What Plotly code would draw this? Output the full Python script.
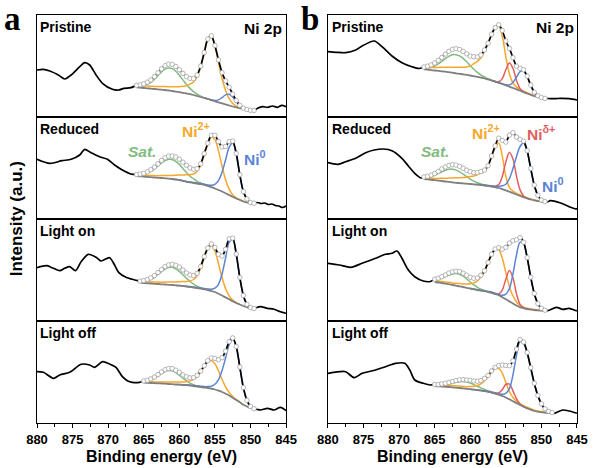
import plotly.graph_objects as go

N = None

# Binding-energy grid of the fitted region (eV)
GRID_E = [866.5, 866.0, 865.5, 865.0, 864.5, 864.0, 863.5, 863.0, 862.5, 862.0,
          861.5, 861.0, 860.5, 860.0, 859.5, 859.0, 858.5, 858.0, 857.5, 857.0,
          856.5, 856.0, 855.5, 855.0, 854.5, 854.0, 853.5, 853.0, 852.5, 852.0,
          851.5, 851.0, 850.5, 850.0, 849.5, 849.0, 848.5]

# ---------------- (a) Pristine ----------------
a1_hi_E = [880, 879.1, 878.2, 877, 876.1, 875.2, 874, 873.3, 872.6, 871.7, 870.8, 869.4, 868.5, 867.8, 866.8]
a1_hi_I = [47, 47.7, 46, 42, 38, 42, 50.3, 54.3, 52, 42, 33.7, 27.7, 27, 28.7, 29.3]
a1_lo_E = [849, 848.3, 847.6, 846.9, 846.2, 845.6, 845]
a1_lo_I = [8.7, 10.3, 9.7, 11, 9.7, 11.7, 10.3]
a1_fit = [N] + [31.7, 32.2, 33.1, 34.8, 37.1, 40.4, 44.2, 48.1, 51.3, 52.9, 52.6, 50.5, 47.2, 43.6, 40.4, 38.6, 38.4,
                41.9, 50.9, 64.4, 78.0, 81.1, 71.5, 57.1, 44.4, 36.1, 29.8, 23.0, 16.5, 11.7, 8.9, 7.5, 6.7, 6.5] + [N] * 2
a1_bg = [N] + [29.7, 29.4, 29.0, 28.7, 28.3, 28.0, 27.6, 27.3, 27.0, 26.5, 26.0, 25.4, 24.8, 24.2, 23.5, 22.8, 22.0,
               21.0, 20.0, 19.0, 18.0, 16.9, 15.8, 14.7, 13.7, 12.6, 11.5, 10.5, 9.6, 8.8, 8.0, 7.3, 6.7, 6.5] + [N] * 2
a1_sat = [N] + [0.5, 1.1, 2.1, 3.9, 6.4, 9.8, 13.8, 17.7, 20.9, 22.6, 22.4, 20.3, 16.9, 12.9, 9.1, 5.8, 3.4, 1.9, 0.9,
                0.4, 0.0] + [N] * 15
a1_ni2 = [N] + [1.5, 1.7, 2.0, 2.2, 2.4, 2.6, 2.8, 3.1, 3.4, 3.8, 4.2, 4.8, 5.5, 6.5, 7.8, 10.0, 13.0, 19.0, 30.0, 45.0,
                60.0, 64.0, 55.0, 40.0, 25.0, 14.0, 7.0, 3.0, 1.2, 0.5, 0.2, 0.0] + [N] * 4
a1_ni0 = [N] * 20 + [0.0, 0.1, 0.2, 0.7, 2.4, 5.7, 9.5, 11.3, 9.5, 5.7, 2.4, 0.7, 0.2, 0.0] + [N] * 3

# ---------------- (a) Reduced ----------------
a2_hi_E = [880, 878.2, 876.5, 875.2, 874.0, 873.3, 872.4, 871.2, 870.1, 869.1, 868.0, 866.8]
a2_hi_I = [59.7, 55.7, 58.3, 59.7, 64, 69.7, 66.3, 62.3, 59.7, 54, 49, 45]
a2_lo_E = [849, 848.5, 848, 847.5, 847, 846.5, 846, 845.5, 845]
a2_lo_I = [16.5, 15.5, 16, 14.5, 15, 13.5, 13, 11.5, 13]
a2_fit = [N] + [44.5, 44.9, 45.7, 47.1, 49.3, 52.0, 55.1, 58.6, 61.2, 62.8, 63.0, 62.0, 59.8, 56.8, 53.7, 51.1, 49.7,
                50.3, 55.2, 65.4, 75.8, 83.7, 83.7, 77.4, 72.1, 72.5, 77.4, 77.9, 65.5, 44.2, 27.4, 20.0, 16.5, 15.8] + [N] * 2
a2_bg = [N] + [43.0, 42.7, 42.4, 42.1, 41.8, 41.5, 41.2, 41.0, 40.7, 40.4, 40.0, 39.5, 39.0, 38.1, 37.2, 36.6, 36.0,
               35.4, 34.8, 34.0, 33.0, 31.8, 30.5, 29.0, 27.5, 25.8, 24.0, 22.2, 20.5, 19.0, 17.5, 16.5, 15.7, 15.5] + [N] * 2
a2_sat = [N] + [0.5, 1.1, 2.0, 3.5, 5.8, 8.6, 11.8, 15.2, 17.8, 19.4, 19.5, 18.2, 15.6, 12.5, 9.2, 6.3, 4.2, 2.3, 1.2,
                0.6, 0.2, 0.0] + [N] * 14
a2_ni2 = [N] + [1.0, 1.1, 1.3, 1.5, 1.7, 1.9, 2.1, 2.4, 2.7, 3.0, 3.5, 4.3, 5.0, 6.0, 7.0, 7.8, 9.0, 12.0, 18.5, 30.0,
                41.6, 50.0, 49.0, 39.1, 25.4, 13.5, 5.8, 2.0, 0.7, 0.3, 0.1, 0.0] + [N] * 4
a2_ni0 = [N] * 11 + [0.0, 0.1, 0.2, 0.2, 0.3, 0.4, 0.5, 0.6, 0.7, 0.8, 1.0, 1.9, 4.2, 9.3, 19.2, 33.2, 47.6, 53.7, 44.3,
                     24.9, 9.8, 3.5, 0.8, 0.3] + [N] * 2

# ---------------- (a) Light on ----------------
a3_hi_E = [880, 878.6, 877.7, 876.8, 876.1, 875.4, 874.6, 873.8, 872.8, 871.7, 871.0, 869.8, 869.1, 868.5, 867.5, 866.6]
a3_hi_I = [53.3, 55.3, 52.7, 50.3, 52.7, 54.3, 50.3, 59.3, 66.7, 63.7, 60, 63.3, 56, 48.3, 43.7, 41.7]
a3_lo_E = [849, 848.6, 847.6, 846.7, 845.8, 845]
a3_lo_I = [13.8, 14.3, 12.7, 11.7, 9.3, 7.7]
a3_fit = [N] * 2 + [39.9, 40.4, 41.4, 43.1, 45.4, 48.4, 51.4, 54.3, 56.1, 56.7, 55.7, 53.9, 51.0, 48.1, 46.0, 45.4, 47.7,
                    54.5, 64.4, 73.0, 77.0, 73.6, 66.7, 64.9, 71.7, 82.2, 82.9, 67.0, 43.5, 25.6, 16.7, 13.3, 12.5] + [N] * 2
a3_bg = [N] * 2 + [38.3, 38.0, 37.7, 37.5, 37.2, 37.0, 36.7, 36.5, 36.2, 36.0, 35.6, 35.3, 34.9, 34.5, 34.0, 33.5, 32.9,
                   32.3, 31.7, 31.0, 30.0, 29.0, 27.3, 25.5, 23.6, 21.7, 19.8, 18.0, 16.5, 15.0, 13.8, 12.7, 12.3] + [N] * 2
a3_sat = [N] * 2 + [0.6, 1.3, 2.4, 4.1, 6.5, 9.5, 12.6, 15.4, 17.2, 17.7, 16.6, 14.4, 11.4, 8.3, 5.5, 3.4, 1.9, 1.0, 0.4,
                    0.2, 0.0] + [N] * 14
a3_ni2 = [N] * 2 + [1.0, 1.1, 1.3, 1.5, 1.7, 1.9, 2.1, 2.4, 2.7, 3.0, 3.5, 4.0, 4.5, 5.0, 6.1, 8.0, 12.3, 20.5, 31.5,
                    40.8, 45.2, 40.8, 30.0, 18.0, 8.8, 3.5, 1.1, 0.3, 0.0] + [N] * 6
a3_ni0 = [N] * 12 + [0.0, 0.2, 0.2, 0.3, 0.4, 0.5, 0.6, 0.7, 0.8, 1.0, 1.8, 3.8, 9.4, 21.4, 39.3, 57.0, 62.0, 48.7, 27.0,
                     10.6, 2.9, 0.6, 0.2] + [N] * 2

# ---------------- (a) Light off ----------------
a4_hi_E = [880, 879.1, 877.7, 876.8, 875.4, 873.8, 872.6, 871.9, 870.8, 869.8, 868.9, 868.0, 867.3, 866.6, 865.6]
a4_hi_I = [51.3, 50.7, 44.7, 48, 50.7, 58.7, 58, 55.7, 61.3, 59, 55.7, 46.3, 42.3, 40.7, 40.7]
a4_lo_E = [849, 848.6, 847.6, 846.7, 845.8, 845]
a4_lo_I = [13.5, 13, 14.7, 13, 15.7, 12.3]
a4_fit = [N] * 3 + [42.0, 42.7, 44.1, 45.9, 48.4, 51.1, 53.3, 54.5, 54.4, 52.8, 50.7, 48.1, 46.3, 45.1, 45.5, 47.7, 51.9,
                    57.3, 62.3, 65.0, 64.6, 63.3, 65.3, 71.9, 81.3, 85.1, 76.5, 56.0, 35.4, 22.7, 16.6, 14.3] + [N] * 2
a4_bg = [N] * 3 + [40.3, 40.1, 40.0, 39.8, 39.7, 39.5, 39.3, 39.0, 38.8, 38.5, 38.3, 38.0, 37.8, 37.4, 37.0, 36.5, 36.0,
                   35.5, 35.0, 34.3, 33.5, 32.3, 31.0, 29.3, 27.5, 25.3, 23.0, 20.7, 18.3, 16.6, 15.0, 14.0] + [N] * 2
a4_sat = [N] * 3 + [0.7, 1.5, 2.9, 4.8, 7.3, 10.0, 12.2, 13.5, 13.4, 11.9, 9.5, 6.8, 4.4, 2.5, 1.3, 0.6, 0.3,
                    0.0] + [N] * 16
a4_ni2 = [N] * 3 + [1.0, 1.1, 1.2, 1.3, 1.4, 1.6, 1.8, 2.0, 2.2, 2.4, 2.7, 3.0, 3.7, 4.7, 6.6, 9.9, 14.8, 20.9, 25.9,
                    28.3, 25.9, 19.9, 12.8, 6.9, 3.1, 1.2, 0.4, 0.1, 0.0] + [N] * 5
a4_ni0 = [N] * 12 + [0.0, 0.2, 0.3, 0.4, 0.5, 0.6, 0.7, 0.8, 0.9, 1.4, 2.4, 5.2, 11.1, 21.5, 35.7, 50.7, 58.6, 53.1, 35.2,
                     17.1, 6.1, 1.6, 0.3] + [N] * 2

# ---------------- (b) Pristine ----------------
b1_hi_E = [880, 878.85, 877.5, 876.1, 875.2, 873.5, 872.4, 871.0, 869.6, 868.2, 867.2]
b1_hi_I = [65.3, 64.7, 64.3, 67, 71, 76, 70.3, 61, 54.3, 50.3, 48.5]
b1_lo_E = [849, 848, 847.4, 846.1, 845]
b1_lo_I = [18.5, 18.3, 18.7, 18.3, 17]
b1_fit = [50.0, 50.8, 52.1, 54.0, 56.6, 59.6, 62.9, 65.7, 67.7, 68.3, 67.6, 65.6, 63.2, 60.9, 60.3, 60.1, 62.0, 67.0,
          73.8, 82.7, 89.4, 92.2, 86.5, 76.0, 68.6, 59.3, 50.8, 48.6, 47.2, 40.8, 31.9, 24.8, 21.2, 19.4, 18.6] + [N] * 2
b1_bg = [47.7, 47.3, 46.9, 46.5, 46.1, 45.7, 45.3, 44.8, 44.3, 43.7, 43.2, 42.7, 42.1, 41.5, 40.8, 40.1, 39.3, 38.5,
         37.5, 36.5, 35.4, 34.2, 33.0, 31.8, 30.4, 29.0, 27.7, 26.3, 24.9, 23.5, 22.1, 20.8, 19.9, 19.0, 18.5] + [N] * 2
b1_sat = [0.8, 1.5, 2.7, 4.5, 7.0, 9.9, 13.1, 15.9, 17.9, 18.6, 17.9, 15.9, 13.1, 9.9, 7.0, 4.5, 2.7, 1.5, 0.8, 0.4,
          0.0] + [N] * 16
b1_ni2 = [1.5, 2.0, 2.5, 3.0, 3.5, 4.0, 4.5, 5.0, 5.5, 6.0, 6.5, 7.0, 8.0, 9.5, 12.5, 15.5, 20.0, 27.0, 35.5, 45.8,
          53.8, 56.8, 47.8, 28.4, 12.9, 5.1, 2.2, 1.2, 1.0, 0.8, 0.6, 0.4, 0.3, 0.2, 0.1] + [N] * 2
b1_nid = [N] * 19 + [0.0, 0.1, 1.0, 5.4, 15.4, 23.6, 19.7, 8.8, 2.1, 0.3, 0.0] + [N] * 7
b1_ni0 = [N] * 19 + [0.0, 0.1, 0.2, 0.3, 0.4, 1.7, 5.5, 12.1, 19.0, 21.0, 16.5, 9.2, 3.6, 1.0, 0.2, 0.0] + [N] * 2

# ---------------- (b) Reduced ----------------
b2_hi_E = [880, 878.6, 877.5, 876.1, 874.7, 873.5, 872.2, 871.0, 869.6, 868.7, 867.8, 866.9]
b2_hi_I = [56.3, 54.7, 57.3, 60.7, 66.3, 69, 70, 68.3, 60.7, 53, 45.7, 41]
b2_lo_E = [849, 848.8, 847.4, 846.1, 845.1, 845]
b2_lo_I = [17.5, 18.3, 16.3, 12.3, 10, 11]
b2_fit = [42.1, 42.7, 43.9, 45.5, 47.6, 50.0, 52.0, 53.6, 54.3, 53.9, 52.6, 50.7, 48.8, 47.4, 46.3, 46.5, 47.4, 49.0,
          53.3, 63.0, 73.1, 80.8, 78.6, 76.9, 83.9, 86.3, 82.0, 79.6, 77.9, 68.3, 50.5, 33.9, 23.7, 19.0, 17.4] + [N] * 2
b2_bg = [40.0, 39.6, 39.2, 38.8, 38.4, 38.0, 37.5, 37.1, 36.6, 36.2, 35.9, 35.6, 35.3, 35.0, 34.6, 34.3, 33.9, 33.5,
         33.0, 32.5, 31.8, 31.0, 29.9, 28.7, 27.3, 26.0, 24.5, 23.0, 21.8, 20.5, 19.5, 18.6, 17.9, 17.3, 17.0] + [N] * 2
b2_sat = [1.1, 1.9, 3.2, 4.9, 7.0, 9.3, 11.3, 12.7, 13.2, 12.7, 11.3, 9.3, 7.0, 4.9, 3.2, 1.9, 1.1, 0.5, 0.2,
          0.0] + [N] * 17
b2_ni2 = [1.0, 1.2, 1.5, 1.8, 2.2, 2.7, 3.2, 3.8, 4.5, 5.0, 5.4, 5.8, 6.5, 7.5, 8.5, 10.0, 12.0, 14.5, 19.5, 29.6,
          39.6, 44.7, 32.9, 14.0, 4.3, 1.8, 1.2, 1.0, 0.8, 0.6, 0.5, 0.4, 0.3, 0.2, 0.1] + [N] * 2
b2_nid = [N] * 18 + [0.0, 0.2, 0.9, 3.4, 12.5, 28.2, 39.2, 34.1, 18.3, 6.1, 1.2, 0.3, 0.0] + [N] * 6
b2_ni0 = [N] * 14 + [0.0, 0.3, 0.4, 0.5, 0.6, 0.7, 0.8, 1.7, 3.3, 6.0, 13.1, 24.4, 38.0, 49.5, 54.1, 46.9, 30.5, 14.9,
                     5.5, 1.5, 0.3] + [N] * 2

# ---------------- (b) Light on ----------------
b3_hi_E = [880, 878.4, 876.8, 875.2, 873.3, 871.9, 871.0, 870.3, 869.6, 868.7, 867.8, 866.6, 865.6]
b3_hi_I = [57.7, 56, 53.7, 57.7, 62.7, 66.7, 67.7, 70, 62.7, 51, 44.3, 40, 39.5]
b3_lo_E = [849, 847.9, 847.0, 846.1, 845.1, 845]
b3_lo_I = [10.5, 13.7, 11.7, 12.7, 10.3, 10.5]
b3_fit = [N] * 3 + [41.8, 42.8, 44.3, 46.1, 47.9, 49.2, 49.8, 49.4, 47.8, 45.8, 43.7, 42.7, 43.1, 45.8, 50.3, 58.6, 66.7,
                    72.0, 73.4, 71.8, 73.7, 77.9, 80.2, 81.3, 83.4, 78.7, 63.4, 43.8, 27.5, 17.4, 12.7, 10.8] + [N] * 2
b3_bg = [N] * 3 + [39.0, 38.5, 38.0, 37.4, 36.8, 36.0, 35.3, 34.7, 34.0, 33.2, 32.5, 31.7, 31.0, 30.4, 29.8, 29.0, 28.2,
                   27.1, 25.8, 23.8, 21.7, 19.6, 17.5, 15.5, 13.7, 12.8, 12.0, 11.5, 11.0, 10.6, 10.3, 10.0] + [N] * 2
b3_sat = [N] * 3 + [1.7, 3.0, 4.8, 7.0, 9.2, 11.1, 12.1, 12.0, 10.8, 8.8, 6.5, 4.4, 2.7, 1.5, 0.8, 0.4, 0.2,
                    0.0] + [N] * 16
b3_ni2 = [N] * 3 + [1.1, 1.3, 1.5, 1.7, 1.9, 2.1, 2.4, 2.7, 3.0, 3.8, 4.7, 6.4, 9.1, 13.5, 19.2, 28.6, 37.6, 44.0, 45.4,
                    38.9, 26.7, 14.7, 7.5, 3.5, 1.9, 1.0, 0.8, 0.6, 0.5, 0.4, 0.3, 0.2] + [N] * 2
b3_nid = [N] * 19 + [0.0, 0.1, 1.3, 7.1, 20.1, 30.8, 25.8, 11.6, 2.8, 0.3, 0.0] + [N] * 7
b3_ni0 = [N] * 13 + [0.0, 0.2, 0.3, 0.4, 0.5, 0.6, 0.7, 0.8, 0.9, 2.0, 5.2, 12.8, 29.4, 50.7, 65.0, 64.6, 50.6, 31.7,
                     16.0, 6.4, 2.1, 0.6] + [N] * 2

# ---------------- (b) Light off ----------------
b4_hi_E = [880, 878.4, 877.5, 876.3, 875.2, 873.3, 871.9, 870.5, 869.2, 868.5, 867.8, 866.6, 865.6]
b4_hi_I = [49.7, 51.3, 51.3, 45.3, 49.7, 53, 56.3, 59.7, 59.7, 53, 43, 39.7, 38]
b4_lo_E = [848.2, 847.0, 846.1, 845]
b4_lo_I = [9.7, 13, 12, 9.7]
b4_fit = [N] * 3 + [38.5, 38.6, 39.1, 39.7, 40.6, 41.5, 42.5, 43.2, 43.4, 43.0, 42.7, 42.0, 41.7, 42.4, 44.6, 47.6, 52.1,
                    55.6, 57.5, 58.0, 57.5, 57.3, 62.2, 73.8, 83.6, 80.9, 70.4, 55.3, 39.8, 27.6, 19.2, 14.2, 11.7, 10.5]
b4_bg = [N] * 3 + [37.0, 36.7, 36.5, 36.2, 36.0, 35.6, 35.3, 35.0, 34.6, 34.2, 33.8, 33.3, 32.8, 32.3, 31.8, 31.1, 30.3,
                   29.4, 28.3, 27.0, 25.5, 23.7, 21.8, 19.9, 18.0, 16.3, 14.7, 13.3, 12.0, 11.3, 10.8, 10.3, 10.0, 9.8]
b4_sat = [N] * 3 + [0.3, 0.6, 1.2, 2.0, 3.0, 4.2, 5.4, 6.3, 6.8, 6.7, 6.2, 5.1, 3.9, 2.8, 1.8, 1.0, 0.6, 0.3, 0.1,
                    0.0] + [N] * 14
b4_ni2 = [N] * 3 + [1.2, 1.3, 1.4, 1.5, 1.6, 1.7, 1.8, 1.9, 2.0, 2.1, 2.7, 3.4, 4.7, 6.9, 10.5, 14.9, 20.5, 24.8, 26.4,
                    22.9, 14.9, 7.8, 3.7, 1.9, 1.2, 1.1, 1.0, 0.9, 0.8, 0.7, 0.6, 0.5, 0.4, 0.3]
b4_nid = [N] * 19 + [0.0, 0.3, 1.8, 6.4, 13.0, 15.2, 10.4, 4.2, 1.0, 0.1, 0.0] + [N] * 7
b4_ni0 = [N] * 13 + [0.0, 0.2, 0.3, 0.4, 0.5, 0.6, 0.7, 0.8, 0.9, 1.7, 4.1, 10.6, 26.3, 47.8, 63.4, 63.4, 54.7, 41.1,
                     27.0, 15.6, 7.8, 3.4, 1.3, 0.4]

STATE_LABELS = ["Pristine", "Reduced", "Light on", "Light off"]
X_TICKS = [880, 875, 870, 865, 860, 855, 850, 845]
X_MINOR = [877.5, 872.5, 867.5, 862.5, 857.5, 852.5, 847.5]

# ---------------- styling ----------------
C_SAT, C_NI2, C_NID, C_NI0, C_BG = "#80bb80", "#f7a72a", "#e35d5d", "#5b84d6", "#7f7f7f"
SANS = "Liberation Sans, Arial, sans-serif"
W, H = 600, 468
ML, MR, MT, MB = 37, 16, 15, 45
PW, PH = W - ML - MR, H - MT - MB


def fx(x):
    return (x - ML) / PW


def fy(y):
    return (H - MB - y) / PH


panels = [
    # (axis index, col, row, hiE, hiI, fit, loE, loI, bg, components)
    (1, 1, 1, a1_hi_E, a1_hi_I, a1_fit, a1_lo_E, a1_lo_I, a1_bg, [(a1_sat, C_SAT), (a1_ni2, C_NI2), (a1_ni0, C_NI0)]),
    (3, 1, 2, a2_hi_E, a2_hi_I, a2_fit, a2_lo_E, a2_lo_I, a2_bg, [(a2_sat, C_SAT), (a2_ni2, C_NI2), (a2_ni0, C_NI0)]),
    (5, 1, 3, a3_hi_E, a3_hi_I, a3_fit, a3_lo_E, a3_lo_I, a3_bg, [(a3_sat, C_SAT), (a3_ni2, C_NI2), (a3_ni0, C_NI0)]),
    (7, 1, 4, a4_hi_E, a4_hi_I, a4_fit, a4_lo_E, a4_lo_I, a4_bg, [(a4_sat, C_SAT), (a4_ni2, C_NI2), (a4_ni0, C_NI0)]),
    (2, 2, 1, b1_hi_E, b1_hi_I, b1_fit, b1_lo_E, b1_lo_I, b1_bg,
     [(b1_sat, C_SAT), (b1_ni2, C_NI2), (b1_nid, C_NID), (b1_ni0, C_NI0)]),
    (4, 2, 2, b2_hi_E, b2_hi_I, b2_fit, b2_lo_E, b2_lo_I, b2_bg,
     [(b2_sat, C_SAT), (b2_ni2, C_NI2), (b2_nid, C_NID), (b2_ni0, C_NI0)]),
    (6, 2, 3, b3_hi_E, b3_hi_I, b3_fit, b3_lo_E, b3_lo_I, b3_bg,
     [(b3_sat, C_SAT), (b3_ni2, C_NI2), (b3_nid, C_NID), (b3_ni0, C_NI0)]),
    (8, 2, 4, b4_hi_E, b4_hi_I, b4_fit, b4_lo_E, b4_lo_I, b4_bg,
     [(b4_sat, C_SAT), (b4_ni2, C_NI2), (b4_nid, C_NID), (b4_ni0, C_NI0)]),
]

fig = go.Figure()
layout_axes = {}
annotations = []

X_DOM = {1: [0.0, fx(289.3)], 2: [fx(331.7), 1.0]}

for k, col, row, hiE, hiI, fit, loE, loI, bg, comps in panels:
    xa, ya = ("x" if k == 1 else f"x{k}"), ("y" if k == 1 else f"y{k}")
    # components (background + peak)
    for h, color in comps:
        xs = [e for e, hv, bv in zip(GRID_E, h, bg) if hv is not None and bv is not None]
        ys = [bv + hv for hv, bv in zip(h, bg) if hv is not None and bv is not None]
        fig.add_trace(go.Scatter(x=xs, y=ys, mode="lines", xaxis=xa, yaxis=ya, hoverinfo="skip",
                                 line=dict(color=color, width=1.5, shape="spline", smoothing=1.0)))
    # background
    bx = [e for e, bv in zip(GRID_E, bg) if bv is not None]
    by = [bv for bv in bg if bv is not None]
    fig.add_trace(go.Scatter(x=bx, y=by, mode="lines", xaxis=xa, yaxis=ya, hoverinfo="skip",
                             line=dict(color=C_BG, width=1.8, shape="spline", smoothing=1.0)))
    # raw spectrum
    fx_e = [e for e, v in zip(GRID_E, fit) if v is not None]
    fx_v = [v for v in fit if v is not None]
    fig.add_trace(go.Scatter(x=hiE + fx_e + loE, y=hiI + fx_v + loI, mode="lines", xaxis=xa, yaxis=ya,
                             hoverinfo="skip", line=dict(color="black", width=1.7, shape="spline", smoothing=0.8)))
    fig.add_trace(go.Scatter(x=fx_e, y=fx_v, mode="markers", xaxis=xa, yaxis=ya, hoverinfo="skip",
                             marker=dict(symbol="circle", size=4.5, color="white",
                                         line=dict(color="#a3a3a3", width=0.8))))

    y0 = 1 - row * 0.25
    bottom = row == 4
    xkey = "xaxis" if k == 1 else f"xaxis{k}"
    ykey = "yaxis" if k == 1 else f"yaxis{k}"
    xd = dict(domain=X_DOM[col], range=[880, 845], anchor=ya, showline=True, mirror=True, linecolor="black",
              linewidth=1.3, showgrid=False, zeroline=False, showticklabels=bottom,
              ticks="outside" if bottom else "", tickvals=X_TICKS, ticklen=4, tickwidth=1.2, tickcolor="black",
              tickfont=dict(family=SANS, size=13, color="black", weight="bold"))
    if bottom:
        xd["minor"] = dict(ticks="outside", tickvals=X_MINOR, ticklen=2.5, tickwidth=1, tickcolor="black")
    layout_axes[xkey] = xd
    layout_axes[ykey] = dict(domain=[y0, y0 + 0.25], range=[0, 102], anchor=xa, showline=True, mirror=True,
                             linecolor="black", linewidth=1.3, showgrid=False, zeroline=False,
                             showticklabels=False, ticks="")

    # state label
    left_px = 38.5 if col == 1 else 333.5
    top_px = MT + (row - 1) * PH / 4
    annotations.append(dict(text=f"<b>{STATE_LABELS[row - 1]}</b>", xref="paper", yref="paper",
                            x=fx(left_px), y=fy(top_px + 11.5), xanchor="left", yanchor="middle",
                            showarrow=False, font=dict(family=SANS, size=14, color="black")))

# Ni 2p labels
annotations.append(dict(text="<b>Ni 2p</b>", xref="paper", yref="paper", x=fx(287), y=fy(28), xanchor="right",
                        yanchor="middle", showarrow=False, font=dict(family=SANS, size=15.5, color="black")))
annotations.append(dict(text="<b>Ni 2p</b>", xref="paper", yref="paper", x=fx(583), y=fy(27), xanchor="right",
                        yanchor="middle", showarrow=False, font=dict(family=SANS, size=15.5, color="black")))

# component labels
for txt, color, cx, cy, ital in [
    ("Sat.", C_SAT, 143, 151, True), ("Ni<sup>2+</sup>", C_NI2, 198, 130, False),
    ("Ni<sup>0</sup>", C_NI0, 258, 158, False),
    ("Sat.", C_SAT, 440, 151, True), ("Ni<sup>2+</sup>", C_NI2, 492, 132, False),
    ("Ni<sup>δ+</sup>", C_NID, 548, 133, False), ("Ni<sup>0</sup>", C_NI0, 560, 185, False),
]:
    t = f"<b><i>{txt}</i></b>" if ital else f"<b>{txt}</b>"
    annotations.append(dict(text=t, xref="paper", yref="paper", x=fx(cx), y=fy(cy), xanchor="center",
                            yanchor="middle", showarrow=False, font=dict(family=SANS, size=15.5, color=color)))

# panel letters
for letter, lx in [("a", 2), ("b", 302)]:
    annotations.append(dict(text=f"<b>{letter}</b>", xref="paper", yref="paper", x=fx(lx), y=fy(19.5),
                            xanchor="left", yanchor="middle", showarrow=False,
                            font=dict(family="Liberation Serif, Times New Roman, serif", size=33, color="black")))

# axis titles
annotations.append(dict(text="<b>Intensity (a.u.)</b>", xref="paper", yref="paper", x=fx(16), y=fy(219),
                        xanchor="center", yanchor="middle", textangle=-90, showarrow=False,
                        font=dict(family=SANS, size=17, color="black")))
for cx in [163, 458]:
    annotations.append(dict(text="<b>Binding energy (eV)</b>", xref="paper", yref="paper", x=fx(cx), y=fy(456),
                            xanchor="center", yanchor="middle", showarrow=False,
                            font=dict(family=SANS, size=16, color="black")))

fig.update_layout(width=W, height=H, margin=dict(l=ML, r=MR, t=MT, b=MB, pad=0), showlegend=False,
                  plot_bgcolor="white", paper_bgcolor="white", annotations=annotations, **layout_axes)

fig.write_html("out.html")
